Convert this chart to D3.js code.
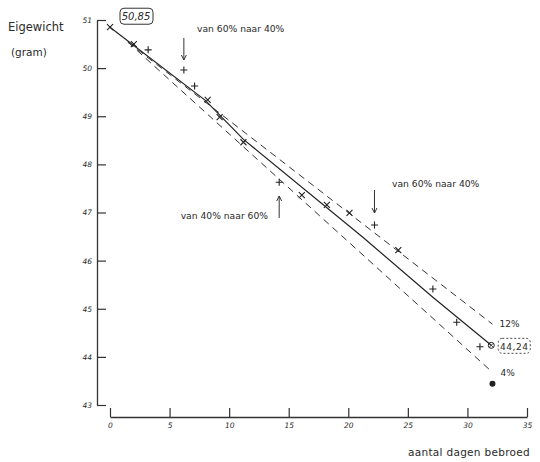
<!DOCTYPE html>
<html>
<head>
<meta charset="utf-8">
<script src="https://cdn.jsdelivr.net/npm/d3@7"></script>
<style>
body { margin: 0; background: #fff; }
text { font-family: "DejaVu Sans", sans-serif; fill: #2a2a2a; }
</style>
</head>
<body>
<div id="chart"></div>
<script>
// metingen (dag, gewicht, teken)
var dagen = [0, 2.0, 3.2, 6.2, 7.1, 8.2, 9.2, 11.2, 14.2, 16.1, 18.2, 20.1, 22.2, 24.2, 27.1, 29.1, 31.05];
var gewicht = [50.85, 50.50, 50.38, 49.96, 49.63, 49.34, 48.98, 48.46, 47.63, 47.36, 47.16, 46.99, 46.74, 46.22, 45.41, 44.72, 44.21];
var teken = ["x", "x", "+", "+", "+", "x", "x", "x", "+", "x", "x", "x", "+", "x", "+", "+", "+"];

// getrokken lijn en grenzen
var lijn_dagen = [0, 8, 11.2, 21.2, 27.1, 32];
var lijn_gewicht = [50.85, 49.33, 48.52, 46.49, 45.24, 44.24];
var grens_dagen = [1.5, 32.1];
var grens_12 = [50.54, 44.68];
var grens_4 = [50.54, 43.68];

var eind = {dag: 32, gewicht: 44.24, label: "44,24"};
var start = {dag: 0, gewicht: 50.85, label: "50,85"};
var los_punt = {dag: 32.1, gewicht: 43.44};

// omschakelingen vochtigheid
var wissel_dagen = [6.2, 14.2, 22.2];
var wissel_tekst = ["van 60% naar 40%", "van 40% naar 60%", "van 60% naar 40%"];

var x_ticks = [0, 5, 10, 15, 20, 25, 30, 35];
var y_ticks = [43, 44, 45, 46, 47, 48, 49, 50, 51];

(function () {
	var width = 540, height = 462;
	var x = d3.scaleLinear().domain([0, 35]).range([110, 527]),
		y = d3.scaleLinear().domain([43, 51]).range([405, 20]);

	var svg = d3.select("#chart").append("svg")
		.attr("width", width).attr("height", height);

	// assen
	var ax = svg.append("g").attr("transform", "translate(0,417)")
		.call(d3.axisBottom(x).tickValues(x_ticks).tickSize(-9).tickSizeOuter(0).tickPadding(6));
	var ay = svg.append("g").attr("transform", "translate(97,0)")
		.call(d3.axisLeft(y).tickValues(y_ticks).tickSize(-9).tickSizeOuter(0).tickPadding(5));
	[ax, ay].forEach(function (a) {
		a.select(".domain").attr("stroke", "#333").attr("stroke-width", 1.3);
		a.selectAll(".tick line").attr("stroke", "#333").attr("stroke-width", 1.2);
		a.selectAll(".tick text").attr("font-size", 7.5).attr("font-style", "italic")
			.attr("fill", "#333").attr("font-family", "DejaVu Sans, sans-serif");
	});

	var line = d3.line().x(function (d) { return x(d[0]); }).y(function (d) { return y(d[1]); });

	svg.append("path").datum(d3.zip(lijn_dagen, lijn_gewicht))
		.attr("d", line).attr("fill", "none").attr("stroke", "#222").attr("stroke-width", 1.2);
	svg.append("path").datum(d3.zip(grens_dagen, grens_12))
		.attr("d", line).attr("fill", "none").attr("stroke", "#333").attr("stroke-width", 1)
		.attr("stroke-dasharray", "7,5");
	svg.append("path").datum(d3.zip(grens_dagen, grens_4))
		.attr("d", line).attr("fill", "none").attr("stroke", "#333").attr("stroke-width", 1)
		.attr("stroke-dasharray", "7,5");

	// meetpunten
	var pts = d3.range(dagen.length).map(function (i) {
		return {d: dagen[i], w: gewicht[i], t: teken[i]};
	});
	svg.selectAll(".punt").data(pts).enter().append("path").attr("class", "punt")
		.attr("transform", function (d) { return "translate(" + x(d.d) + "," + y(d.w) + ")"; })
		.attr("d", function (d) {
			return d.t == "+" ? "M-3.5,0H3.5M0,-3.5V3.5" : "M-3,-3L3,3M-3,3L3,-3";
		})
		.attr("stroke", "#222").attr("stroke-width", 1.1).attr("fill", "none");

	// eindpunt en los punt
	var ex = x(eind.dag), ey = y(eind.gewicht);
	svg.append("circle").attr("cx", ex).attr("cy", ey).attr("r", 3)
		.attr("fill", "none").attr("stroke", "#222").attr("stroke-width", 1);
	svg.append("path").attr("d", "M" + (ex - 2) + "," + (ey - 2) + "l4,4m-4,0l4,-4")
		.attr("stroke", "#222").attr("stroke-width", 0.8);
	svg.append("circle").attr("cx", x(los_punt.dag)).attr("cy", y(los_punt.gewicht)).attr("r", 3)
		.attr("fill", "#222");

	// labels in kaders
	var sx = x(start.dag) + 26, sy = y(start.gewicht) - 10;
	svg.append("rect").attr("x", sx - 16).attr("y", sy - 9).attr("width", 33).attr("height", 16)
		.attr("rx", 4).attr("fill", "none").attr("stroke", "#333").attr("stroke-width", 1);
	svg.append("text").attr("x", sx).attr("y", sy + 3).attr("text-anchor", "middle")
		.attr("font-size", 10).attr("font-style", "italic").text(start.label);

	var kx = ex + 23, ky = ey + 1;
	svg.append("rect").attr("x", kx - 16).attr("y", ky - 8).attr("width", 32).attr("height", 15)
		.attr("rx", 4).attr("fill", "none").attr("stroke", "#333").attr("stroke-width", 0.9)
		.attr("stroke-dasharray", "2,2");
	svg.append("text").attr("x", kx).attr("y", ky + 3.5).attr("text-anchor", "middle")
		.attr("font-size", 9).attr("letter-spacing", 0.5).text(eind.label);

	svg.append("text").attr("x", x(grens_dagen[1]) + 7).attr("y", y(grens_12[1]) + 3)
		.attr("font-size", 9).text("12%");
	svg.append("text").attr("x", x(grens_dagen[1]) + 8).attr("y", y(grens_4[1]) + 4)
		.attr("font-size", 9).text("4%");

	// pijlen bij omschakeling
	var pijlen = [
		{y1: 38, y2: 60, tx: 197, ty: 32, anchor: "start"},
		{y1: 218, y2: 196, tx: 268, ty: 219, anchor: "end"},
		{y1: 190, y2: 213, tx: 392, ty: 187, anchor: "start"}
	];
	wissel_dagen.forEach(function (dag, i) {
		var p = pijlen[i], px = x(dag), dir = p.y2 > p.y1 ? 1 : -1;
		svg.append("line").attr("x1", px).attr("x2", px).attr("y1", p.y1).attr("y2", p.y2)
			.attr("stroke", "#333").attr("stroke-width", 1);
		svg.append("path").attr("d", "M" + (px - 2.5) + "," + (p.y2 - dir * 5) + "L" + px + "," + p.y2 + "L" + (px + 2.5) + "," + (p.y2 - dir * 5))
			.attr("fill", "none").attr("stroke", "#333").attr("stroke-width", 1);
		svg.append("text").attr("x", p.tx).attr("y", p.ty).attr("text-anchor", p.anchor)
			.attr("font-size", 9.2).text(wissel_tekst[i]);
	});

	// astitels
	svg.append("text").attr("x", 8).attr("y", 31).attr("font-size", 11.5).text("Eigewicht");
	svg.append("text").attr("x", 11).attr("y", 56).attr("font-size", 10.5).text("(gram)");
	svg.append("text").attr("x", 408).attr("y", 456).attr("font-size", 10.5)
		.attr("letter-spacing", 0.3).text("aantal dagen bebroed");
})();
</script>
</body>
</html>
